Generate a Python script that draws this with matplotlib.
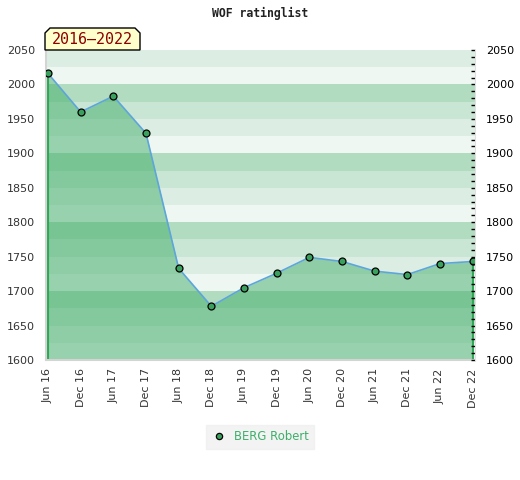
import matplotlib
matplotlib.use("Agg")
import matplotlib.pyplot as plt
from matplotlib.patches import Polygon
from matplotlib.ticker import MultipleLocator
import numpy as np

# data
labels = ["Jun 16", "Dec 16", "Jun 17", "Dec 17", "Jun 18", "Dec 18", "Jun 19",
          "Dec 19", "Jun 20", "Dec 20", "Jun 21", "Dec 21", "Jun 22", "Dec 22"]
ratings = [2016, 1960, 1983, 1929, 1733, 1678, 1705,
           1726, 1749, 1743, 1729, 1724, 1740, 1743]
player = "BERG Robert"
period = "2016–2022"
title = "WOF ratinglist"

ymin, ymax = 1600, 2050
band_colors = ["#eff7f2", "#dceee3", "#c8e6d3", "#b1dcc0"]  # 25-pt bands, low->high within each 100

fig = plt.figure(figsize=(5.2, 4.8), dpi=100)
ax = fig.add_axes([46 / 520, 1 - 360 / 480, 429 / 520, 310 / 480])

x = np.arange(len(ratings))
ax.set_xlim(-2 / 32.67, len(ratings) - 1 + 2.3 / 32.67)
ax.set_ylim(ymin, ymax)

# striped background
for lo in range(ymin, ymax, 25):
    ax.axhspan(lo, lo + 25, color=band_colors[(lo // 25) % 4], lw=0, zorder=0)

ax.fill_between(x, ratings, ymin, color="#3dab65", alpha=0.49, lw=0, zorder=1)
ax.plot(x, ratings, color="#5ea5dc", lw=1.2, zorder=2)
ax.vlines([x[0], x[-1]], ymin, [ratings[0], ratings[-1]], color="#2ea854", lw=1.5, zorder=2)
ax.plot(x, ratings, ls="none", marker="o", ms=5, mfc="#3aa05e", mec="black", mew=0.9,
        zorder=3, label=player)

for s in ["top", "right"]:
    ax.spines[s].set_visible(False)
for s in ["left", "bottom"]:
    ax.spines[s].set_color("#d4d4d4")
    ax.spines[s].set_linewidth(1.5)

ax.set_xticks(x)
ax.set_xticklabels(labels, rotation=90, fontsize=8, color="#333333")
ax.yaxis.set_major_locator(MultipleLocator(50))
ax.tick_params(axis="both", length=0, labelsize=8, colors="#333333", pad=6)
ax.tick_params(axis="y", pad=8)

# right axis with minor ticks
ax2 = ax.twinx()
ax2.set_ylim(ymin, ymax)
ax2.yaxis.set_major_locator(MultipleLocator(50))
ax2.yaxis.set_minor_locator(MultipleLocator(10))
ax2.tick_params(axis="y", which="both", direction="in", length=3, width=1,
                labelsize=8, colors="black", pad=8)
for s in ["top", "left", "bottom"]:
    ax2.spines[s].set_visible(False)
ax2.spines["right"].set_color("#e0e0e0")

fig.text(0.5, 1 - 13 / 480, title, ha="center", va="center", fontsize=8.3,
         family="DejaVu Sans Mono", fontweight="bold", color="#222222")

# period badge with chamfered top corners
l, r, t, b = 45 / 520, 140 / 520, 1 - 28 / 480, 1 - 50 / 480
cx, cy = 5 / 520, 5 / 480
badge = Polygon([(l, b), (l, t - cy), (l + cx, t), (r - cx, t), (r, t - cy), (r, b)],
                closed=True, transform=fig.transFigure, facecolor="#ffffcc",
                edgecolor="black", lw=1, zorder=5)
fig.patches.append(badge)
fig.text((l + r) / 2, (t + b) / 2 - 0.002, period, ha="center", va="center",
         fontsize=10.8, family="DejaVu Sans Mono", color="#8b0000", zorder=6)

leg = fig.legend(loc="center", bbox_to_anchor=(260 / 520, 1 - 437 / 480), frameon=True,
                 fontsize=8.4, handlelength=1.2, handletextpad=0.7, borderpad=0.45,
                 markerscale=0.9)
leg.get_frame().set_facecolor("#f0f0f0")
leg.get_frame().set_edgecolor("#f0f0f0")
leg.get_frame().set_boxstyle("square", pad=0)
for txt in leg.get_texts():
    txt.set_color("#3cb06a")

fig.savefig("out.png", dpi=100)
